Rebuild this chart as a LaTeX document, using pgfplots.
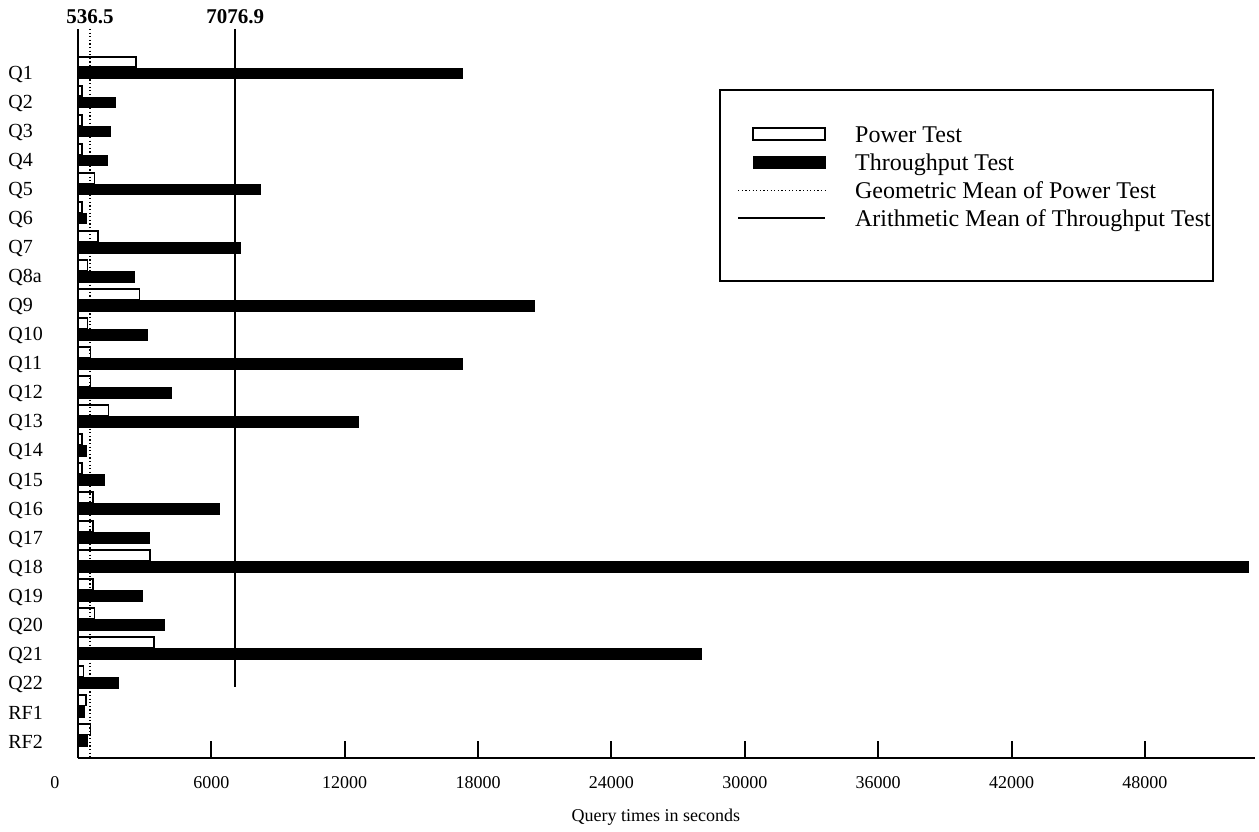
\documentclass[border=0pt]{standalone}
\usepackage{fontspec}
\setmainfont{Liberation Serif}
\usepackage{pgfplots}
\pgfplotsset{compat=1.18}
\usepackage{pgfplotstable}

\pgfplotsset{
  barlegend/.style={legend image code/.code={\draw[##1] (0pt,-2pt) rectangle (36pt,4pt);}},
  linelegend/.style={legend image code/.code={\draw[##1] (-7.5pt,1pt) -- (36pt,1pt);}},
}

\pgfplotstableread{
y power through
23 2600 17270
22 170 1660
21 170 1470
20 170 1340
19 750 8220
18 170 360
17 900 7320
16 420 2550
15 2760 20510
14 420 3100
13 570 17270
12 570 4180
11 1380 12590
10 170 360
9 170 1170
8 670 6350
7 670 3190
6 3250 52630
5 670 2880
4 750 3870
3 3420 28030
2 240 1800
1 360 270
0 570 420
}\data

\begin{document}
\fontsize{9}{11}\selectfont
\begin{tikzpicture}
\begin{axis}[name=ax, scale only axis, width=588.5pt, height=364.5pt,
  clip=false,
  xmin=0, xmax=52950, ymin=-0.79, ymax=24.34,
  axis x line*=bottom, axis y line*=left,
  axis line style={line width=1pt,-},
  xtick={6000,12000,...,48000},
  extra x ticks={0},
  extra x tick style={tick label style={xshift=-11.5pt}},
  scaled x ticks=false,
  /pgf/number format/.cd, 1000 sep={}, assume math mode=true, /pgfplots/.cd,
  tick align=inside, major tick length=8.5pt,
  xtick style={line width=1pt,black},
  ytick={0,...,23},
  yticklabels={RF2,RF1,Q22,Q21,Q20,Q19,Q18,Q17,Q16,Q15,Q14,Q13,Q12,Q11,Q10,Q9,Q8a,Q7,Q6,Q5,Q4,Q3,Q2,Q1},
  ytick style={draw=none},
  xticklabel style={yshift=-6pt, font=\fontsize{9}{11}\selectfont},
  yticklabel style={anchor=west, xshift=-38pt, yshift=-3.5pt, font=\fontsize{10}{12}\selectfont},
  xlabel={Query times in seconds},
  xlabel style={at={(axis description cs:0.491,0)}, anchor=center, yshift=-29.5pt, font=\fontsize{9}{11}\selectfont},
  legend cell align=left,
  legend style={draw=none, fill=none, inner sep=0pt, at={(axis cs:29645,21.07)}, anchor=north west,
    row sep=2pt, font=\fontsize{12}{14}\selectfont,
    nodes={inner sep=0pt, text height=9pt, text depth=3pt},
    /tikz/every odd column/.append style={column sep=14.5pt}},
]
\addplot[xbar, bar width=0.36, bar shift=0.2, draw=black, line width=0.8pt, fill=white, barlegend]
  table[x=power, y=y] {\data};
\addlegendentry{Power Test}
\addplot[xbar, bar width=0.37, bar shift=-0.19, draw=black, fill=black, line width=0.3pt, barlegend]
  table[x=through, y=y] {\data};
\addlegendentry{Throughput Test}
\addplot[black, line width=0.7pt, dash pattern=on 0.6pt off 1.2pt, sharp plot, linelegend]
  coordinates {(536.5,24.34) (536.5,-0.79)};
\addlegendentry{Geometric Mean of Power Test}
\addplot[black, line width=0.9pt, sharp plot, linelegend]
  coordinates {(7076.9,24.34) (7076.9,1.655)};
\addlegendentry{Arithmetic Mean of Throughput Test}
\draw[line width=0.8pt] (axis cs:28880,22.24) rectangle (axis cs:51057,15.66);
\node[anchor=base, font=\fontsize{10.5}{12.5}\selectfont\bfseries, yshift=2.5pt] at (axis cs:536.5,24.34) {536.5};
\node[anchor=base, font=\fontsize{10.5}{12.5}\selectfont\bfseries, yshift=2.5pt] at (axis cs:7076.9,24.34) {7076.9};
\end{axis}
\pgfresetboundingbox
\path ([shift={(-39pt,-36.5pt)}]ax.south west) rectangle ++(629.5pt,415.5pt);
\end{tikzpicture}
\end{document}
